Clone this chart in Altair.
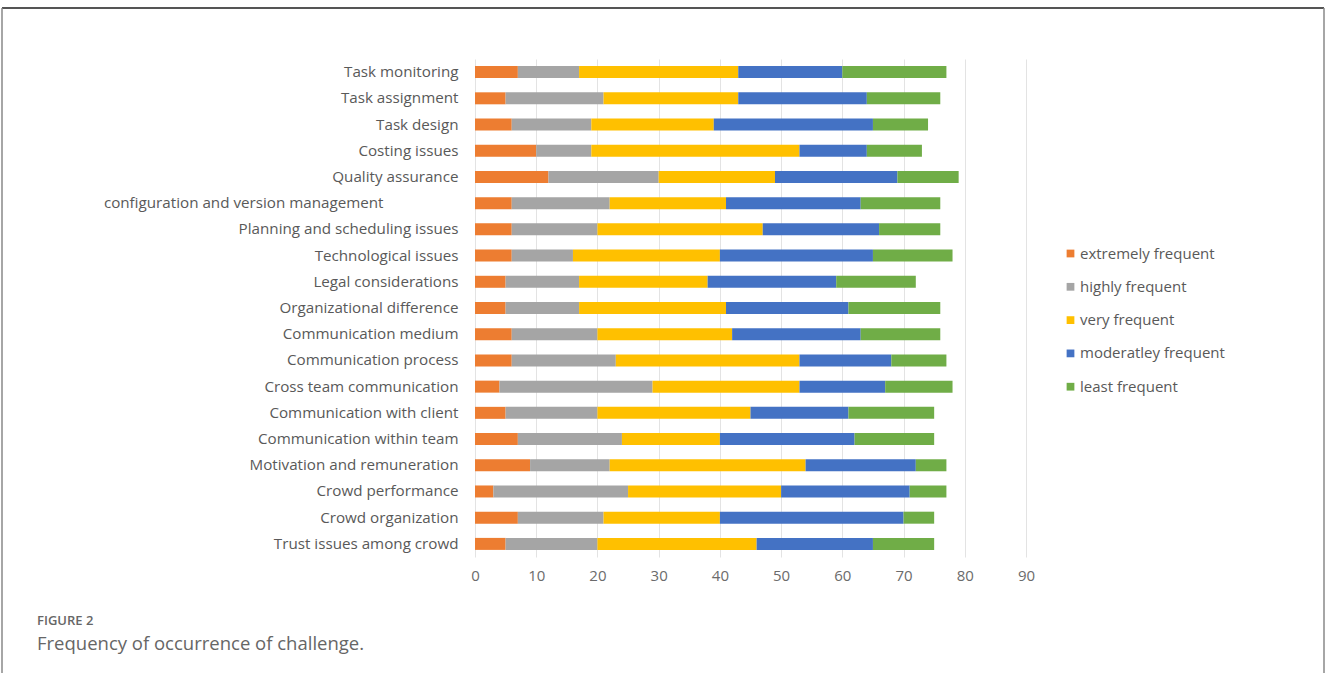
import altair as alt
import pandas as pd

categories = [
    "Task monitoring", "Task assignment", "Task design", "Costing issues",
    "Quality assurance", "configuration and version management",
    "Planning and scheduling issues", "Technological issues",
    "Legal considerations", "Organizational difference",
    "Communication medium", "Communication process",
    "Cross team communication", "Communication with client",
    "Communication within team", "Motivation and remuneration",
    "Crowd performance", "Crowd organization", "Trust issues among crowd",
]
series = ["extremely frequent", "highly frequent", "very frequent",
          "moderatley frequent", "least frequent"]
colors = ["#ED7D31", "#A5A5A5", "#FFC000", "#4472C4", "#70AD47"]

extremely = [7, 5, 6, 10, 12, 6, 6, 6, 5, 5, 6, 6, 4, 5, 7, 9, 3, 7, 5]
highly = [10, 16, 13, 9, 18, 16, 14, 10, 12, 12, 14, 17, 25, 15, 17, 13, 22, 14, 15]
very = [26, 22, 20, 34, 19, 19, 27, 24, 21, 24, 22, 30, 24, 25, 16, 32, 25, 19, 26]
moderately = [17, 21, 26, 11, 20, 22, 19, 25, 21, 20, 21, 15, 14, 16, 22, 18, 21, 30, 19]
least = [17, 12, 9, 9, 10, 13, 10, 13, 13, 15, 13, 9, 11, 14, 13, 5, 6, 5, 10]

x_ticks = [0, 10, 20, 30, 40, 50, 60, 70, 80, 90]

rows = []
for si, (name, vals) in enumerate(zip(series, [extremely, highly, very, moderately, least])):
    for c, v in zip(categories, vals):
        rows.append({"category": c, "series": name, "order": si, "value": v})
df = pd.DataFrame(rows)

W, H = 551, 498
FONT = "Open Sans"

pad_label = "configuration and version management"
label_expr = ("datum.value == '" + pad_label + "' ? datum.value + '" + "\u00a0" * 19 +
              "\u200b' : datum.value")

bars = alt.Chart(df).mark_bar(size=12).encode(
    x=alt.X("value:Q", stack="zero",
            scale=alt.Scale(domain=[0, 90], nice=False),
            axis=alt.Axis(values=x_ticks, title=None, grid=True, gridColor="#e3e3e3",
                          ticks=False, domain=False, labelFontSize=15, labelColor="#6b6b6b",
                          labelFont=FONT, labelPadding=11, labelFlush=False)),
    y=alt.Y("category:N", sort=categories,
            scale=alt.Scale(paddingInner=0.54, paddingOuter=0.27),
            axis=alt.Axis(title=None, ticks=False, domain=False, labelFontSize=15.2,
                          labelColor="#595959", labelFont=FONT, labelPadding=17,
                          labelExpr=label_expr, labelLimit=450)),
    color=alt.Color("series:N", sort=series,
                    scale=alt.Scale(domain=series, range=colors),
                    legend=alt.Legend(title=None, orient="none", legendX=588, legendY=187,
                                      symbolType="square", symbolSize=60,
                                      symbolStrokeWidth=0, labelFontSize=15,
                                      labelColor="#595959", labelFont=FONT,
                                      rowPadding=17.3, labelOffset=2)),
    order=alt.Order("order:Q", sort="ascending"),
)

cap = pd.DataFrame({"t": ["FIGURE 2", "Frequency of occurrence of challenge."]})
caption1 = alt.Chart(cap.iloc[[0]]).mark_text(
    align="left", baseline="middle", font=FONT, fontSize=13, color="#666666",
    fontWeight=600).encode(x=alt.value(-438), y=alt.value(562), text="t:N")
caption2 = alt.Chart(cap.iloc[[1]]).mark_text(
    align="left", baseline="middle", font=FONT, fontSize=18.5, color="#666666").encode(
    x=alt.value(-438), y=alt.value(585), text="t:N")

frame_top = alt.Chart(cap.iloc[[0]]).mark_rule(color="#555555", strokeWidth=2).encode(
    x=alt.value(-473), x2=alt.value(849), y=alt.value(-51))
frame_left = alt.Chart(cap.iloc[[0]]).mark_rule(color="#888888", strokeWidth=1.5).encode(
    x=alt.value(-473), y=alt.value(-51), y2=alt.value(620))
frame_right = alt.Chart(cap.iloc[[0]]).mark_rule(color="#888888", strokeWidth=1.5).encode(
    x=alt.value(849), y=alt.value(-51), y2=alt.value(620))

chart = alt.layer(frame_top, frame_left, frame_right, bars, caption1, caption2).properties(
    width=W, height=H,
    autosize=alt.AutoSizeParams(type="none"),
    padding={"left": 475, "top": 59, "right": 301, "bottom": 116},
    background="white",
).configure_view(stroke=None)

chart.save("out.html", embed_options={"renderer": "svg", "actions": False})
